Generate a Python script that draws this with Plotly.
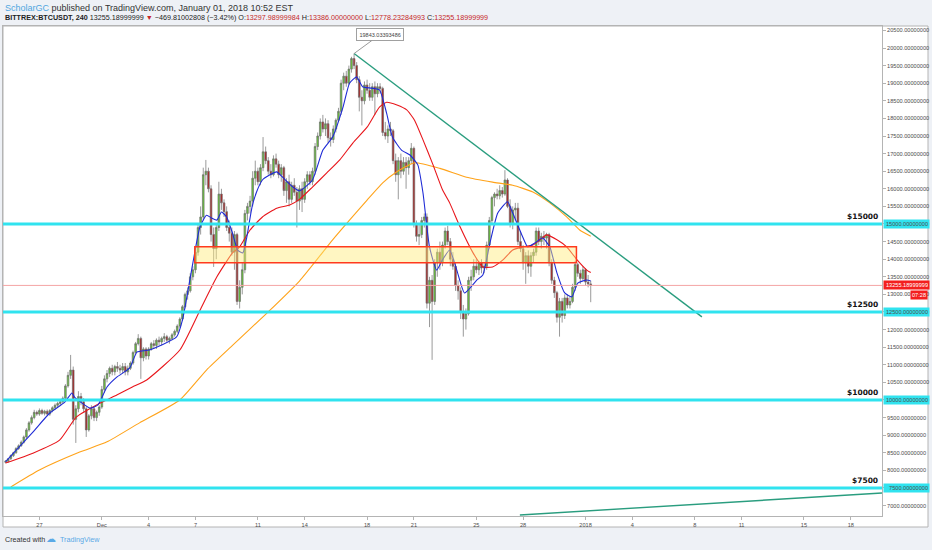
import plotly.graph_objects as go
import pandas as pd

# ---------------- DATA (BITTREX:BTCUSDT, 4h candles) ----------------
first_candle = "2017-11-24 20:00"

opens = [8230,
    8260, 8330, 8420, 8500, 8620, 8700,          # Nov 25
    8800, 8950, 9150, 9350, 9500, 9650,          # Nov 26
    9600, 9700, 9620, 9680, 9600, 9700,          # Nov 27
    9780, 9850, 9900, 9950, 10050, 10400,        # Nov 28
    10700, 10850, 9450, 9750, 10100, 9950,       # Nov 29
    9750, 9150, 9550, 9750, 9500, 9650,          # Nov 30
    9800, 10300, 10600, 10750, 10900, 10800,     # Dec 1
    10950, 10900, 10850, 10950, 10800, 10900,    # Dec 2
    11050, 11350, 11600, 11750, 11200, 11450,    # Dec 3
    11250, 11450, 11600, 11550, 11700, 11650,    # Dec 4
    11750, 11800, 11700, 11750, 11850, 11950,    # Dec 5
    12100, 12300, 12650, 13000, 13100, 13500,    # Dec 6
    13700, 14200, 14900, 15200, 16400, 16500,    # Dec 7
    16000, 14700, 14300, 14900, 15850, 15600,    # Dec 8
    15350, 14900, 14740, 14200, 14700, 12800,    # Dec 9
    13200, 13700, 15300, 15500, 15650, 16300,    # Dec 10
    16500, 16200, 16600, 17050, 16800, 16500,    # Dec 11
    16400, 16850, 16700, 16400, 16600, 15950,    # Dec 12
    16200, 15700, 16100, 15900, 15650, 16000,    # Dec 13
    15700, 16200, 16400, 16200, 16500, 17200,    # Dec 14
    17500, 17900, 17700, 17850, 17450, 17400,    # Dec 15
    17700, 17950, 18200, 19000, 19200, 19000,    # Dec 16
    19400, 19700, 19500, 19100, 18600, 18500,    # Dec 17
    18950, 18800, 18600, 18900, 18700, 18900,    # Dec 18
    18850, 17600, 17500, 17700, 17650, 16800,    # Dec 19
    16400, 16800, 16500, 16750, 16600, 16800,    # Dec 20
    17150, 15000, 14650, 14700, 15100, 15200,    # Dec 21
    12750, 13400, 12800, 13900, 14200, 13900,    # Dec 22
    14400, 14800, 14500, 14000, 13800, 13250,    # Dec 23
    13100, 12500, 12300, 12450, 13400, 13500,    # Dec 24
    13800, 13700, 13900, 13750, 13800, 14400,    # Dec 25
    15100, 15750, 15850, 15800, 15950, 15850,    # Dec 26
    16250, 15500, 15000, 15400, 15450, 14500,    # Dec 27
    14300, 13900, 14100, 13800, 14100, 14200,    # Dec 28
    14800, 14500, 14650, 14600, 14700, 13900,    # Dec 29
    13400, 13050, 12350, 12800, 12400, 12900,    # Dec 30
    12700, 12800, 13200, 13850, 13600, 13450,    # Dec 31
    13700, 13350, 13297.98999984]                # Jan 1

highs = [8290,
    8350, 8450, 8530, 8660, 8740, 8850,
    8990, 9200, 9400, 9560, 9720, 9700,
    9760, 9750, 9720, 9730, 9740, 9820,
    9900, 9950, 10000, 10100, 10450, 10800,
    11280, 10950, 9850, 10250, 10200, 10050,
    9800, 9600, 9850, 9800, 9700, 9850,
    10400, 10700, 10850, 10950, 11000, 11000,
    11080, 11000, 11050, 11050, 10980, 11100,
    11400, 11650, 11870, 11800, 11500, 11500,
    11500, 11650, 11700, 11750, 11800, 11800,
    11900, 11850, 11800, 11900, 12000, 12150,
    12350, 12700, 13050, 13200, 13600, 13800,
    14300, 15000, 15500, 16600, 16820, 16600,
    16100, 14900, 15000, 16200, 16000, 15700,
    15500, 15100, 14900, 14800, 14750, 13400,
    13900, 15400, 15600, 15800, 16500, 16800,
    16600, 16700, 17470, 17200, 16900, 16700,
    16950, 17000, 16800, 16700, 16650, 16300,
    16400, 16200, 16300, 16050, 16100, 16200,
    16300, 16500, 16500, 16600, 17300, 17600,
    18000, 18100, 18000, 17950, 17600, 17800,
    18000, 18300, 19100, 19300, 19350, 19500,
    19750, 19843.03393486, 19600, 19200, 18800, 19050,
    19100, 19000, 19000, 19050, 19000, 19000,
    18900, 17900, 17800, 17900, 17700, 17000,
    16900, 17000, 16900, 16900, 16900, 17300,
    17200, 15100, 15000, 15200, 15300, 15300,
    13500, 13550, 14000, 14300, 14500, 14500,
    14900, 14950, 14600, 14200, 13900, 13400,
    13200, 12700, 12600, 13500, 13700, 14000,
    14000, 13950, 14000, 13900, 14500, 15200,
    15800, 15900, 16000, 16100, 16050, 16530,
    16300, 15700, 15500, 15600, 15600, 14800,
    14400, 14200, 14250, 14200, 14300, 14900,
    14900, 14750, 14800, 14750, 14750, 14000,
    13500, 13100, 12900, 12900, 13000, 13000,
    12950, 13300, 13950, 13900, 13700, 13800,
    13750, 13550, 13386.0]

lows = [8200,
    8220, 8300, 8380, 8470, 8580, 8670,
    8760, 8900, 9100, 9300, 9450, 9550,
    9550, 9580, 9560, 9560, 9550, 9650,
    9720, 9800, 9850, 9900, 10000, 10350,
    10600, 9300, 8780, 9650, 9850, 9650,
    8950, 9100, 9450, 9400, 9400, 9550,
    9750, 10200, 10500, 10650, 10700, 10700,
    10800, 10750, 10750, 10700, 10700, 10850,
    11000, 11300, 11550, 10600, 11100, 11150,
    11150, 11400, 11450, 11450, 11550, 11550,
    11650, 11650, 11600, 11700, 11800, 11900,
    12050, 12250, 12600, 12850, 13050, 13400,
    13600, 14100, 14700, 15100, 16100, 15900,
    14500, 13780, 14000, 14800, 15400, 15200,
    14800, 14500, 14100, 13700, 12700, 12600,
    13000, 13600, 15100, 15300, 15500, 16100,
    16100, 16100, 16500, 16700, 16400, 16300,
    16350, 16600, 16300, 16200, 15800, 15600,
    15500, 15600, 15800, 14900, 15400, 15340,
    15600, 16000, 16100, 16100, 16400, 17100,
    17400, 17600, 17500, 17300, 17200, 17300,
    17600, 17900, 18100, 18800, 18900, 18950,
    19300, 19400, 19000, 18200, 17800, 18400,
    18700, 18500, 18500, 18100, 18600, 18700,
    17500, 17400, 17300, 17500, 16700, 16200,
    15700, 16300, 16400, 16000, 16400, 16700,
    14900, 14500, 14400, 14600, 14900, 12600,
    12070, 11140, 12700, 13500, 13700, 13800,
    14300, 14400, 13800, 13700, 13100, 12850,
    12300, 11800, 12000, 12400, 13100, 13400,
    13600, 13550, 13600, 13600, 13700, 14300,
    15000, 15500, 15700, 15700, 15750, 15800,
    15450, 14900, 14850, 15100, 14400, 14200,
    13700, 13300, 13600, 13500, 13900, 14100,
    14400, 14300, 14400, 14300, 13800, 13300,
    12900, 12200, 11800, 12200, 12300, 12600,
    12600, 12750, 13100, 13500, 13300, 13400,
    13250, 13200, 12778.23284993]

closes = [8260,
    8330, 8420, 8500, 8620, 8700, 8800,
    8950, 9150, 9350, 9500, 9650, 9600,
    9700, 9620, 9680, 9600, 9700, 9780,
    9850, 9900, 9950, 10050, 10400, 10700,
    10850, 9450, 9750, 10100, 9950, 9750,
    9150, 9550, 9750, 9500, 9650, 9800,
    10300, 10600, 10750, 10900, 10800, 10950,
    10900, 10850, 10950, 10800, 10900, 11050,
    11350, 11600, 11750, 11200, 11450, 11250,
    11450, 11600, 11550, 11700, 11650, 11750,
    11800, 11700, 11750, 11850, 11950, 12100,
    12300, 12650, 13000, 13100, 13500, 13700,
    14200, 14900, 15200, 16400, 16500, 16000,
    14700, 14300, 14900, 15850, 15600, 15350,
    14900, 14740, 14200, 14700, 12800, 13200,
    13700, 15300, 15500, 15650, 16300, 16500,
    16200, 16600, 17050, 16800, 16500, 16400,
    16850, 16700, 16400, 16600, 15950, 16200,
    15700, 16100, 15900, 15650, 16000, 15700,
    16200, 16400, 16200, 16500, 17200, 17500,
    17900, 17700, 17850, 17450, 17400, 17700,
    17950, 18200, 19000, 19200, 19000, 19400,
    19700, 19500, 19100, 18600, 18500, 18950,
    18800, 18600, 18900, 18700, 18900, 18850,
    17600, 17500, 17700, 17650, 16800, 16400,
    16800, 16500, 16750, 16600, 16800, 17150,
    15000, 14650, 14700, 15100, 15200, 12750,
    13400, 12800, 13900, 14200, 13900, 14400,
    14800, 14500, 14000, 13800, 13250, 13100,
    12500, 12300, 12450, 13400, 13500, 13800,
    13700, 13900, 13750, 13800, 14400, 15100,
    15750, 15850, 15800, 15950, 15850, 16250,
    15500, 15000, 15400, 15450, 14500, 14300,
    13900, 14100, 13800, 14100, 14200, 14800,
    14500, 14650, 14600, 14700, 13900, 13400,
    13050, 12350, 12800, 12400, 12900, 12700,
    12800, 13200, 13850, 13600, 13450, 13700,
    13350, 13298, 13255.18999999]

# fast moving average (blue)
blue_t = ["2017-11-24 20:00", "2017-11-26 14:00", "2017-11-27 16:00", "2017-11-28 15:00",
          "2017-11-29 02:00", "2017-11-29 06:00", "2017-11-30 06:00", "2017-11-30 18:00",
          "2017-12-01 08:00", "2017-12-01 23:00", "2017-12-02 19:00", "2017-12-03 06:00",
          "2017-12-04 01:00", "2017-12-05 19:00", "2017-12-06 04:00", "2017-12-06 20:00",
          "2017-12-07 07:00", "2017-12-07 17:00", "2017-12-08 01:00", "2017-12-08 09:00",
          "2017-12-08 16:00", "2017-12-09 00:00", "2017-12-09 09:00", "2017-12-09 17:00",
          "2017-12-10 01:00", "2017-12-10 07:00", "2017-12-10 15:00", "2017-12-10 22:00",
          "2017-12-11 07:00", "2017-12-11 18:00", "2017-12-12 05:00", "2017-12-12 14:00",
          "2017-12-13 06:00", "2017-12-13 16:00", "2017-12-14 12:00", "2017-12-15 04:00",
          "2017-12-15 19:00", "2017-12-16 11:00", "2017-12-16 21:00", "2017-12-17 08:00",
          "2017-12-17 17:00", "2017-12-18 07:00", "2017-12-18 19:00", "2017-12-19 06:00",
          "2017-12-19 15:00", "2017-12-20 05:00", "2017-12-20 18:00", "2017-12-21 06:00",
          "2017-12-21 14:00", "2017-12-22 00:00", "2017-12-22 11:00", "2017-12-22 20:00",
          "2017-12-23 07:00", "2017-12-23 18:00", "2017-12-24 06:00", "2017-12-25 01:00",
          "2017-12-25 10:00", "2017-12-25 21:00", "2017-12-26 09:00", "2017-12-27 00:00",
          "2017-12-27 08:00", "2017-12-27 22:00", "2017-12-28 07:00", "2017-12-28 18:00",
          "2017-12-29 06:00", "2017-12-29 17:00", "2017-12-30 04:00", "2017-12-30 16:00",
          "2017-12-31 03:00", "2017-12-31 12:00", "2018-01-01 02:00", "2018-01-01 08:00"]
blue_v = [8250, 9090, 9630, 9940, 10200, 10080, 9770, 9860,
          10370, 10650, 10910, 11360, 11420, 11790, 12270, 13890,
          14920, 15250, 15170, 15110, 15340, 15200, 14740, 14260,
          14180, 14630, 15480, 15910, 16250, 16390, 16480, 16330,
          16050, 15940, 16250, 17100, 17470, 18320, 19000, 19180,
          18900, 18860, 18810, 18150, 17470, 17100, 16960, 16680,
          15880, 14350, 13690, 13980, 14260, 13690, 13040, 13410,
          13550, 14460, 15310, 15630, 15310, 14690, 14350, 14460,
          14600, 14350, 13610, 13040, 12930, 13320, 13410, 13380]

# medium moving average (red)
red_t = ["2017-11-24 20:00", "2017-11-26 14:00", "2017-11-28 07:00", "2017-11-29 09:00",
         "2017-11-30 21:00", "2017-12-01 23:00", "2017-12-02 23:00", "2017-12-03 21:00",
         "2017-12-06 00:00", "2017-12-07 07:00", "2017-12-08 09:00", "2017-12-09 09:00",
         "2017-12-09 20:00", "2017-12-10 12:00", "2017-12-11 07:00", "2017-12-12 05:00",
         "2017-12-13 01:00", "2017-12-13 16:00", "2017-12-14 12:00", "2017-12-15 10:00",
         "2017-12-16 06:00", "2017-12-17 02:00", "2017-12-18 00:00", "2017-12-18 19:00",
         "2017-12-19 06:00", "2017-12-19 22:00", "2017-12-20 13:00", "2017-12-21 01:00",
         "2017-12-21 14:00", "2017-12-22 05:00", "2017-12-22 20:00", "2017-12-23 07:00",
         "2017-12-23 23:00", "2017-12-24 19:00", "2017-12-25 10:00", "2017-12-26 01:00",
         "2017-12-26 17:00", "2017-12-27 08:00", "2017-12-28 00:00", "2017-12-28 15:00",
         "2017-12-29 02:00", "2017-12-29 12:00", "2017-12-30 04:00", "2017-12-30 19:00",
         "2017-12-31 11:00", "2018-01-01 02:00", "2018-01-01 08:00"]
red_v = [8210, 8490, 8860, 9520, 9910, 10140, 10370, 10570,
         11420, 12550, 13500, 14180, 14350, 14830, 15200, 15450,
         15540, 15700, 16050, 16450, 16820, 17300, 17750, 18320,
         18460, 18380, 18240, 17950, 17390, 16700, 15970, 15600,
         14920, 14180, 13780, 13780, 13980, 14260, 14350, 14400,
         14550, 14690, 14550, 14350, 13980, 13690, 13620]

# slow moving average (orange)
orange_t = ["2017-11-25 04:00", "2017-11-27 00:00", "2017-11-29 14:00", "2017-12-01 08:00",
            "2017-12-03 10:00", "2017-12-06 00:00", "2017-12-07 17:00", "2017-12-09 09:00",
            "2017-12-11 14:00", "2017-12-13 16:00", "2017-12-15 19:00", "2017-12-16 21:00",
            "2017-12-18 00:00", "2017-12-19 00:00", "2017-12-19 19:00", "2017-12-21 01:00",
            "2017-12-22 16:00", "2017-12-24 09:00", "2017-12-26 01:00", "2017-12-27 08:00",
            "2017-12-28 15:00", "2017-12-29 17:00", "2017-12-30 19:00", "2017-12-31 15:00",
            "2018-01-01 08:00"]
orange_v = [7530, 8010, 8520, 8810, 9350, 10000, 10850, 11550,
            12470, 13380, 14550, 15110, 15680, 16170, 16450, 16740,
            16580, 16330, 16190, 16100, 15910, 15600, 15200, 14830,
            14650]

# drawn objects
levels = [15000, 12500, 10000, 7500]
level_labels = ["$15000", "$12500", "$10000", "$7500"]
zone_t = ["2017-12-06 23:00", "2017-12-31 10:00"]
zone_p = [13900, 14350]
down_t = ["2017-12-17 04:00", "2018-01-08 11:00"]
down_p = [19843.03393486, 12360]
up_t = ["2017-12-27 19:00", "2018-01-20 00:00"]
up_p = [6733, 7357]
last_price = 13255.18999999
peak_t, peak_p = "2017-12-17 04:00", 19843.03393486

x_tick_vals = ["2017-11-27", "2017-12-01", "2017-12-04", "2017-12-07", "2017-12-11",
               "2017-12-14", "2017-12-18", "2017-12-21", "2017-12-25", "2017-12-28",
               "2018-01-01", "2018-01-04", "2018-01-08", "2018-01-11", "2018-01-15",
               "2018-01-18"]
x_tick_text = ["27", "Dec", "4", "7", "11", "14", "18", "21", "25", "28",
               "2018", "4", "8", "11", "15", "18"]
y_tick_vals = [7000, 7500, 8000, 8500, 9000, 9500, 10000, 10500, 11000, 11500, 12000,
               12500, 13000, 13500, 14000, 14500, 15000, 15500, 16000, 16500, 17000,
               17500, 18000, 18500, 19000, 19500, 20000, 20500]

# ---------------- FIGURE ----------------
times = pd.date_range(first_candle, periods=len(closes), freq="4h")

W, H = 932, 550
L, R, T, B = 3, 50, 26, 34
PW, PH = W - L - R, H - T - B


def px_x(px):
    return (px - L) / PW


def px_y(py):
    return (H - B - py) / PH


FONT = "Liberation Sans"
fig = go.Figure()

fig.add_trace(go.Candlestick(
    x=times, open=opens, high=highs, low=lows, close=closes,
    increasing=dict(line=dict(color="#6f6f6f", width=0.7), fillcolor="#66c737"),
    decreasing=dict(line=dict(color="#6f6f6f", width=0.7), fillcolor="#b1201f"),
    whiskerwidth=0, hoverinfo="skip", showlegend=False))

for t, v, c in [(orange_t, orange_v, "#ffa31a"), (red_t, red_v, "#e8161b"), (blue_t, blue_v, "#1f2bd6")]:
    fig.add_trace(go.Scatter(x=t, y=v, mode="lines", line=dict(color=c, width=1.1, shape="spline", smoothing=0.5),
                             hoverinfo="skip", showlegend=False))

for t, v in [(down_t, down_p), (up_t, up_p)]:
    fig.add_trace(go.Scatter(x=t, y=v, mode="lines", line=dict(color="#2a9d7f", width=1.4),
                             hoverinfo="skip", showlegend=False))

shapes = []
# white chart frame (plot + axes area)
shapes.append(dict(type="rect", xref="paper", yref="paper", x0=px_x(3), x1=px_x(928),
                   y0=px_y(527), y1=px_y(26), fillcolor="white", line=dict(color="#b4b4b4", width=1),
                   layer="below"))
# support/resistance zone
shapes.append(dict(type="rect", xref="x", yref="y", x0=zone_t[0], x1=zone_t[1], y0=zone_p[0], y1=zone_p[1],
                   fillcolor="rgba(255,236,120,0.45)", line=dict(color="#ff3a1e", width=1.5), layer="above"))
# levels
for lv in levels:
    shapes.append(dict(type="line", xref="paper", yref="y", x0=0, x1=1, y0=lv, y1=lv,
                       line=dict(color="#30e3ef", width=3)))
# last price line
shapes.append(dict(type="line", xref="paper", yref="y", x0=0, x1=1, y0=last_price, y1=last_price,
                   line=dict(color="#f4a4a4", width=1)))

ann = []
tick_font = dict(family=FONT, size=5.6, color="#4d4d4d")
for lv, lab in zip(levels, level_labels):
    ann.append(dict(xref="paper", yref="y", x=px_x(880), y=lv, text="<b>" + lab + "</b>", showarrow=False,
                    xanchor="right", yanchor="bottom", yshift=1,
                    font=dict(family="DejaVu Sans", size=7.5, color="#111")))
    ann.append(dict(xref="paper", yref="y", x=1, y=lv, text=f"{lv:.8f}", showarrow=False,
                    xanchor="left", yanchor="middle", xshift=0.5, width=43, align="right",
                    bgcolor="#30e3ef", borderpad=1, font=tick_font))
ann.append(dict(xref="paper", yref="y", x=1, y=last_price, text=f"{last_price:.8f}", showarrow=False,
                xanchor="left", yanchor="middle", xshift=0.5, width=43, align="right",
                bgcolor="#f31f1f", borderpad=1, font=dict(family=FONT, size=5.6, color="white")))
ann.append(dict(xref="paper", yref="y", x=px_x(928), y=last_price, text="07:28", showarrow=False,
                xanchor="right", yanchor="middle", yshift=-10, bgcolor="#f31f1f", borderpad=1,
                font=dict(family=FONT, size=5.6, color="white")))
# peak callout
ann.append(dict(xref="x", yref="y", x=peak_t, y=peak_p, text=f"{peak_p:.8f}", showarrow=True,
                arrowhead=0, arrowwidth=1, arrowcolor="#9a9a9a", ax=26, ay=-19, standoff=0,
                bgcolor="white", bordercolor="#a0a0a0", borderwidth=1, borderpad=2.5,
                font=dict(family=FONT, size=5.5, color="#444")))
# header
ann.append(dict(xref="paper", yref="paper", x=0, y=px_y(7.5), xanchor="left", yanchor="middle", showarrow=False,
                text="<span style='color:#4ea6e0'>ScholarGC</span> published on TradingView.com, January 01, 2018 10:52 EST",
                font=dict(family=FONT, size=9, color="#333")))
red = "#c62828"
hdr2 = ("<b>BITTREX:BTCUSDT, 240</b> 13255.18999999 <span style='color:%s'>▼</span> "
        "−469.81002808 (−3.42%%) O:<span style='color:%s'>13297.98999984</span> "
        "H:<span style='color:%s'>13386.00000000</span> L:<span style='color:%s'>12778.23284993</span> "
        "C:<span style='color:%s'>13255.18999999</span>") % (red, red, red, red, red)
ann.append(dict(xref="paper", yref="paper", x=0, y=px_y(17.5), xanchor="left", yanchor="middle", showarrow=False,
                text=hdr2, font=dict(family=FONT, size=7.2, color="#222")))
# footer
ann.append(dict(xref="paper", yref="paper", x=0, y=px_y(539), xanchor="left", yanchor="middle", showarrow=False,
                text="Created with", font=dict(family=FONT, size=7.2, color="#333")))
ann.append(dict(xref="paper", yref="paper", x=px_x(44), y=px_y(538), xanchor="left", yanchor="middle", showarrow=False,
                text="☁", font=dict(family="DejaVu Sans", size=10, color="#5aa9e6")))
ann.append(dict(xref="paper", yref="paper", x=px_x(58), y=px_y(539), xanchor="left", yanchor="middle", showarrow=False,
                text="TradingView", font=dict(family=FONT, size=7.2, color="#5aa9e6")))

fig.update_layout(
    width=W, height=H, margin=dict(l=L, r=R, t=T, b=B),
    paper_bgcolor="#eef1f6", plot_bgcolor="rgba(0,0,0,0)", showlegend=False,
    shapes=shapes, annotations=ann, hovermode=False, boxgap=0.08,
    xaxis=dict(type="date", range=["2017-11-24 16:00", "2018-01-20 00:00"],
               rangeslider=dict(visible=False), tickvals=x_tick_vals, ticktext=x_tick_text,
               showgrid=False, zeroline=False, showline=True, mirror=True, linecolor="#b4b4b4",
               ticks="outside", ticklen=3, tickcolor="#b4b4b4", tickfont=tick_font),
    yaxis=dict(side="right", range=[6704, 20625], tickvals=y_tick_vals,
               ticktext=[f"{v:.8f}" for v in y_tick_vals],
               showgrid=False, zeroline=False, showline=True, mirror=True, linecolor="#b4b4b4",
               ticks="outside", ticklen=3, tickcolor="#b4b4b4", tickfont=tick_font),
)

fig.write_html("out.html", config={"displayModeBar": False, "staticPlot": True},
               post_script="document.body.style.margin='0';document.body.style.overflow='hidden';")
